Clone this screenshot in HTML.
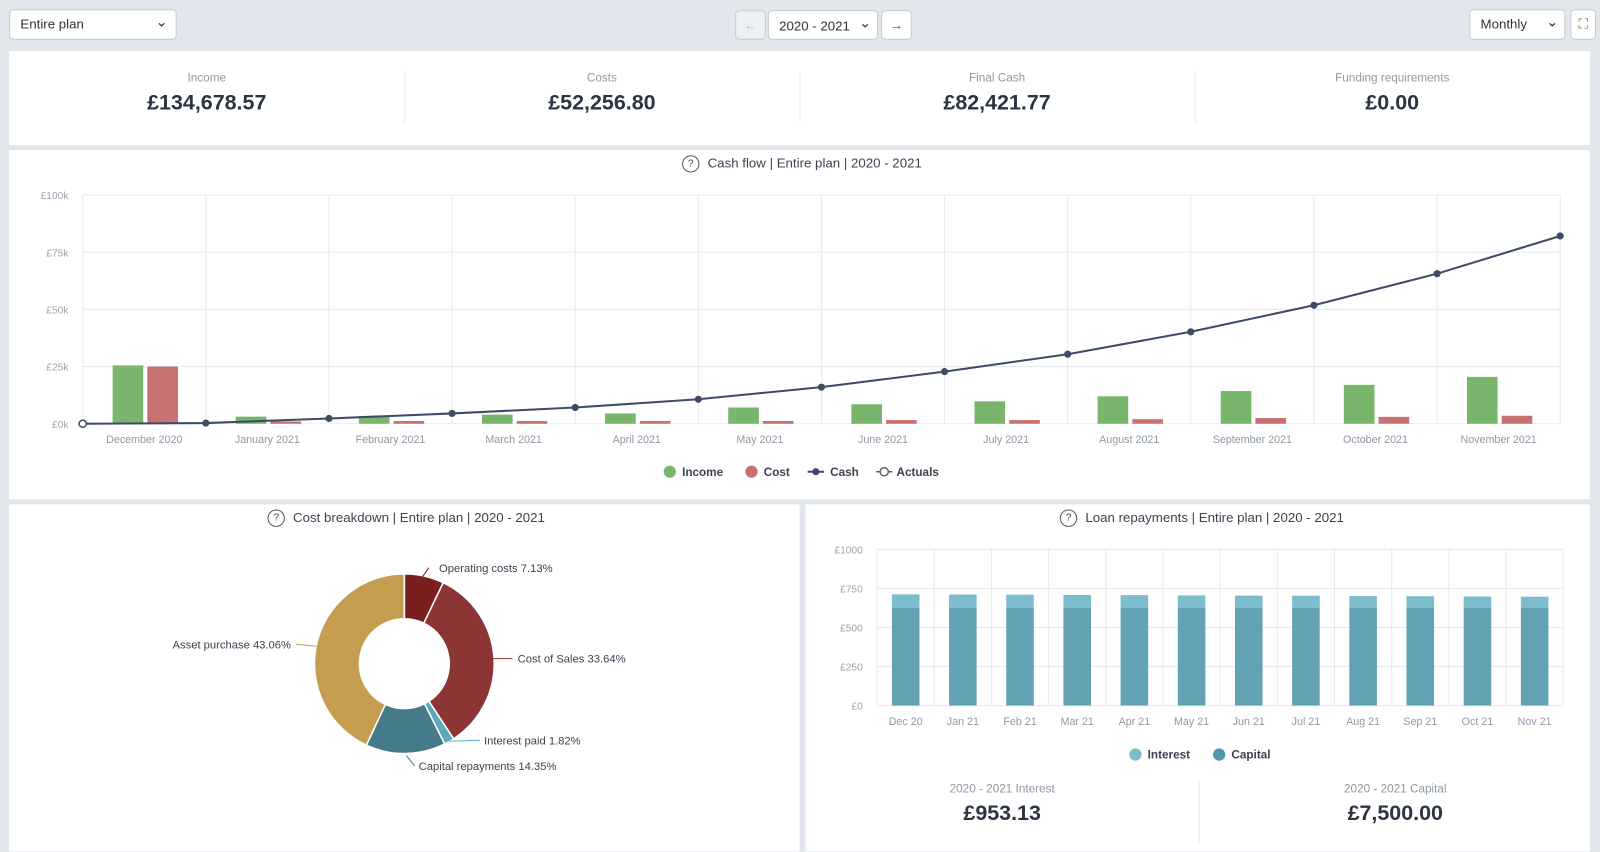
<!DOCTYPE html>
<html><head><meta charset="utf-8"><style>
html,body{margin:0;padding:0;width:1600px;height:844px;overflow:hidden;background:#e2e7ee;font-family:"Liberation Sans",sans-serif;}
#root{position:absolute;left:0;top:0;width:1567px;height:827px;transform:scale(1.02106);transform-origin:0 0;}
.abs{position:absolute;}
.box{position:absolute;background:#fff;border:1px solid #c5ccd6;border-radius:4px;font-size:13px;color:#333;box-sizing:border-box;}
.panel{position:absolute;background:#fff;}
.kpi{position:absolute;top:0;width:387px;text-align:center;}
.kpi .l{margin-top:21px;font-size:11.5px;color:#8e98a4;}
.kpi .v{margin-top:6px;font-size:21px;font-weight:bold;color:#2b3442;}
.sep{position:absolute;top:20px;width:1px;height:50px;background:#e3e7ec;}
.title{position:absolute;font-size:13px;color:#3b4350;white-space:nowrap;}
.q{display:inline-block;width:15px;height:15px;border:1px solid #555;border-radius:50%;font-size:10px;text-align:center;line-height:15px;margin-right:8px;vertical-align:middle;}
svg text{font-family:"Liberation Sans",sans-serif;}
</style></head><body>
<div id="root">
<div class="box" style="left:9px;top:9px;width:164px;height:30px;padding:6px 10px;">Entire plan<span style="position:absolute;right:8px;top:3px;font-size:14px">&#8964;</span></div>
<div class="box" style="left:720px;top:10px;width:30px;height:29px;color:#bbb;text-align:center;line-height:27px;background:#eef1f4">&#8592;</div>
<div class="box" style="left:752px;top:10px;width:108px;height:29px;padding:7px 10px;">2020 - 2021<span style="position:absolute;right:6px;top:3px;font-size:14px">&#8964;</span></div>
<div class="box" style="left:863px;top:10px;width:30px;height:29px;color:#555;text-align:center;line-height:27px">&#8594;</div>
<div class="box" style="left:1439px;top:9px;width:94px;height:30px;padding:6px 10px;">Monthly<span style="position:absolute;right:6px;top:3px;font-size:14px">&#8964;</span></div>
<div class="box" style="left:1538px;top:9px;width:25px;height:30px;color:#666;text-align:center;line-height:28px;">&#x26F6;</div>

<div class="panel" style="left:9px;top:50px;width:1548px;height:92px;">
<div class="kpi" style="left:0"><div class="l">Income</div><div class="v">£134,678.57</div></div>
<div class="sep" style="left:387px"></div>
<div class="kpi" style="left:387px"><div class="l">Costs</div><div class="v">£52,256.80</div></div>
<div class="sep" style="left:774px"></div>
<div class="kpi" style="left:774px"><div class="l">Final Cash</div><div class="v">£82,421.77</div></div>
<div class="sep" style="left:1161px"></div>
<div class="kpi" style="left:1161px"><div class="l">Funding requirements</div><div class="v">£0.00</div></div>
</div>

<div class="panel" style="left:9px;top:147px;width:1548px;height:342px;"></div>
<div class="title" style="left:668px;top:152px;"><span class="q">?</span>Cash flow | Entire plan | 2020 - 2021</div>
<svg class="abs" style="left:0;top:0" width="1567" height="827" id="cf"></svg>

<div class="panel" style="left:9px;top:494px;width:774px;height:340px;"></div>
<div class="title" style="left:262px;top:499px;"><span class="q">?</span>Cost breakdown | Entire plan | 2020 - 2021</div>
<div class="panel" style="left:789px;top:494px;width:768px;height:340px;"></div>
<div class="title" style="left:1038px;top:499px;"><span class="q">?</span>Loan repayments | Entire plan | 2020 - 2021</div>
<svg class="abs" style="left:0;top:0" width="1567" height="827" id="pie"></svg>
<svg class="abs" style="left:0;top:0" width="1567" height="827" id="loan"></svg>
<div class="sep" style="left:1174px;top:765px;height:60px"></div>
<div class="kpi" style="left:789px;top:746px;width:385px"><div class="l">2020 - 2021 Interest</div><div class="v">£953.13</div></div>
<div class="kpi" style="left:1174px;top:746px;width:385px"><div class="l">2020 - 2021 Capital</div><div class="v">£7,500.00</div></div>
</div>
<script>
const months=["December 2020","January 2021","February 2021","March 2021","April 2021","May 2021","June 2021","July 2021","August 2021","September 2021","October 2021","November 2021"];
const income=[25.5,3.1,3.4,4.0,4.5,7.1,8.5,9.8,12.0,14.3,17.0,20.5];
const cost=[25.0,1.0,1.2,1.2,1.2,1.2,1.6,1.6,2.0,2.5,3.0,3.5];
const cash=[0,0.3,2.3,4.5,7.1,10.7,16.0,22.8,30.4,40.2,51.8,65.6,82.1];
const cfTicks=[0,25,50,75,100];
const costLabels=["Operating costs","Cost of Sales","Interest paid","Capital repayments","Asset purchase"];
const costPct=[7.13,33.64,1.82,14.35,43.06];
const loanMonths=["Dec 20","Jan 21","Feb 21","Mar 21","Apr 21","May 21","Jun 21","Jul 21","Aug 21","Sep 21","Oct 21","Nov 21"];
const capital=[625,625,625,625,625,625,625,625,625,625,625,625];
const interest=[87,86,85,83,82,80,79,78,76,75,73,72];
const loanTicks=[0,250,500,750,1000];
const NS="http://www.w3.org/2000/svg";
function mk(p,t,a,txt){const e=document.createElementNS(NS,t);for(const k in a)e.setAttribute(k,a[k]);if(txt!==undefined)e.textContent=txt;p.appendChild(e);return e;}
// cash flow
(function(){
const s=document.getElementById('cf');
const L=81,R=1528,T=191,B=415,n=months.length,w=(R-L)/n;
const y=v=>B-(v/100)*(B-T);
cfTicks.forEach(t=>{mk(s,'line',{x1:L,x2:R,y1:y(t),y2:y(t),stroke:'#e6eaef'});const e=mk(s,'text',{x:L-14,y:y(t)+4,'font-size':10,fill:'#9aa4af','text-anchor':'end'},'£'+t+'k');});
for(let i=0;i<=n;i++)mk(s,'line',{x1:L+i*w,x2:L+i*w,y1:T,y2:B,stroke:'#e6eaef'});
months.forEach((m,i)=>{const cx=L+w*(i+0.5);
const b1=mk(s,'rect',{x:cx-31,y:y(income[i]),width:30,height:B-y(income[i]),fill:'#79b56b'});
const b2=mk(s,'rect',{x:cx+3,y:y(cost[i]),width:30,height:B-y(cost[i]),fill:'#c77171'});
const t=mk(s,'text',{x:cx,y:B+19,'font-size':10.5,fill:'#8e98a4','text-anchor':'middle'},m);});
const pts=cash.map((v,i)=>[L+i*w,y(v)]);
const pl=mk(s,'polyline',{points:pts.map(p=>p.join(',')).join(' '),fill:'none',stroke:'#3e4b66','stroke-width':2});
pts.forEach((p,i)=>{const c=mk(s,'circle',{cx:p[0],cy:p[1],r:i?3.5:3.5,fill:i?'#3e4b66':'#fff',stroke:'#3e4b66','stroke-width':i?0:1.5});});
const lg=[[650,'Income','#79b56b'],[730,'Cost','#c77171']];
lg.forEach(l=>{const g=mk(s,'g',{});mk(g,'circle',{cx:l[0]+6,cy:462,r:6,fill:l[2]});mk(g,'text',{x:l[0]+18,y:466,'font-size':11.5,'font-weight':'bold',fill:'#3b4350'},l[1]);});
let g=mk(s,'g',{});
mk(g,'line',{x1:791,x2:807,y1:462,y2:462,stroke:'#3e4b66','stroke-width':2});mk(g,'circle',{cx:799,cy:462,r:3.5,fill:'#3e4b66'});mk(g,'text',{x:813,y:466,'font-size':11.5,'font-weight':'bold',fill:'#3b4350'},'Cash');
g=mk(s,'g',{});
mk(g,'line',{x1:858,x2:874,y1:462,y2:462,stroke:'#666','stroke-width':1.5});mk(g,'circle',{cx:866,cy:462,r:4,fill:'#fff',stroke:'#666','stroke-width':1.5});mk(g,'text',{x:878,y:466,'font-size':11.5,'font-weight':'bold',fill:'#3b4350'},'Actuals');
})();
// pie
(function(){
const s=document.getElementById('pie');const cx=396,cy=650,R=88,r=44;
const cols=['#7b1e1e','#8b3535','#5aa8be','#457b88','#c49d50'];
const lbl=[[430,560,'start',[420,556,413,566]],[507,649,'start',[482,645,502,645]],[474,729,'start',[440,726,470,725]],[410,754,'start',[398,740,406,750]],[285,635,'end',[290,631,311,633]]];
let a=0;const tot=costPct.reduce((x,y)=>x+y,0);
costPct.forEach((p,i)=>{const a0=a,a1=a+p/tot*2*Math.PI;a=a1;
const P=(rr,an)=>[cx+rr*Math.sin(an),cy-rr*Math.cos(an)];
const big=a1-a0>Math.PI?1:0;const [x0,y0]=P(R,a0),[x1,y1]=P(R,a1),[x2,y2]=P(r,a1),[x3,y3]=P(r,a0);
const pa=mk(s,'path',{d:`M${x0},${y0}A${R},${R} 0 ${big} 1 ${x1},${y1}L${x2},${y2}A${r},${r} 0 ${big} 0 ${x3},${y3}Z`,fill:cols[i],stroke:'#fff','stroke-width':1.5});

const l=lbl[i];mk(s,'line',{x1:l[3][0],y1:l[3][1],x2:l[3][2],y2:l[3][3],stroke:cols[i]});
const t=mk(s,'text',{x:l[0],y:l[1],'font-size':11,fill:'#3b4350','text-anchor':l[2]},costLabels[i]+' '+p.toFixed(2)+'%');});
})();
// loan
(function(){
const s=document.getElementById('loan');const L=859,R=1531,T=538,B=691,n=loanMonths.length,w=(R-L)/n;
const y=v=>B-v/1000*(B-T);
loanTicks.forEach(t=>{mk(s,'line',{x1:L,x2:R,y1:y(t),y2:y(t),stroke:'#e6eaef'});const e=mk(s,'text',{x:L-14,y:y(t)+4,'font-size':10,fill:'#9aa4af','text-anchor':'end'},'£'+t);});
for(let i=0;i<=n;i++)mk(s,'line',{x1:L+i*w,x2:L+i*w,y1:T,y2:B,stroke:'#e6eaef'});
loanMonths.forEach((m,i)=>{const cx=L+w*(i+0.5);
const c=mk(s,'rect',{x:cx-13.5,y:y(capital[i]),width:27,height:B-y(capital[i]),fill:'#62a2b3'});
const it=mk(s,'rect',{x:cx-13.5,y:y(capital[i]+interest[i]),width:27,height:y(capital[i])-y(capital[i]+interest[i]),fill:'#7dbccc'});
const t=mk(s,'text',{x:cx,y:B+19,'font-size':10.5,fill:'#8e98a4','text-anchor':'middle'},m);});
[[1106,'Interest','#7dbccc'],[1188,'Capital','#4f97a8']].forEach(l=>{const g=mk(s,'g',{});mk(g,'circle',{cx:l[0]+6,cy:739,r:6,fill:l[2]});mk(g,'text',{x:l[0]+18,y:743,'font-size':11.5,'font-weight':'bold',fill:'#3b4350'},l[1]);});
})();
</script>
</body></html>
